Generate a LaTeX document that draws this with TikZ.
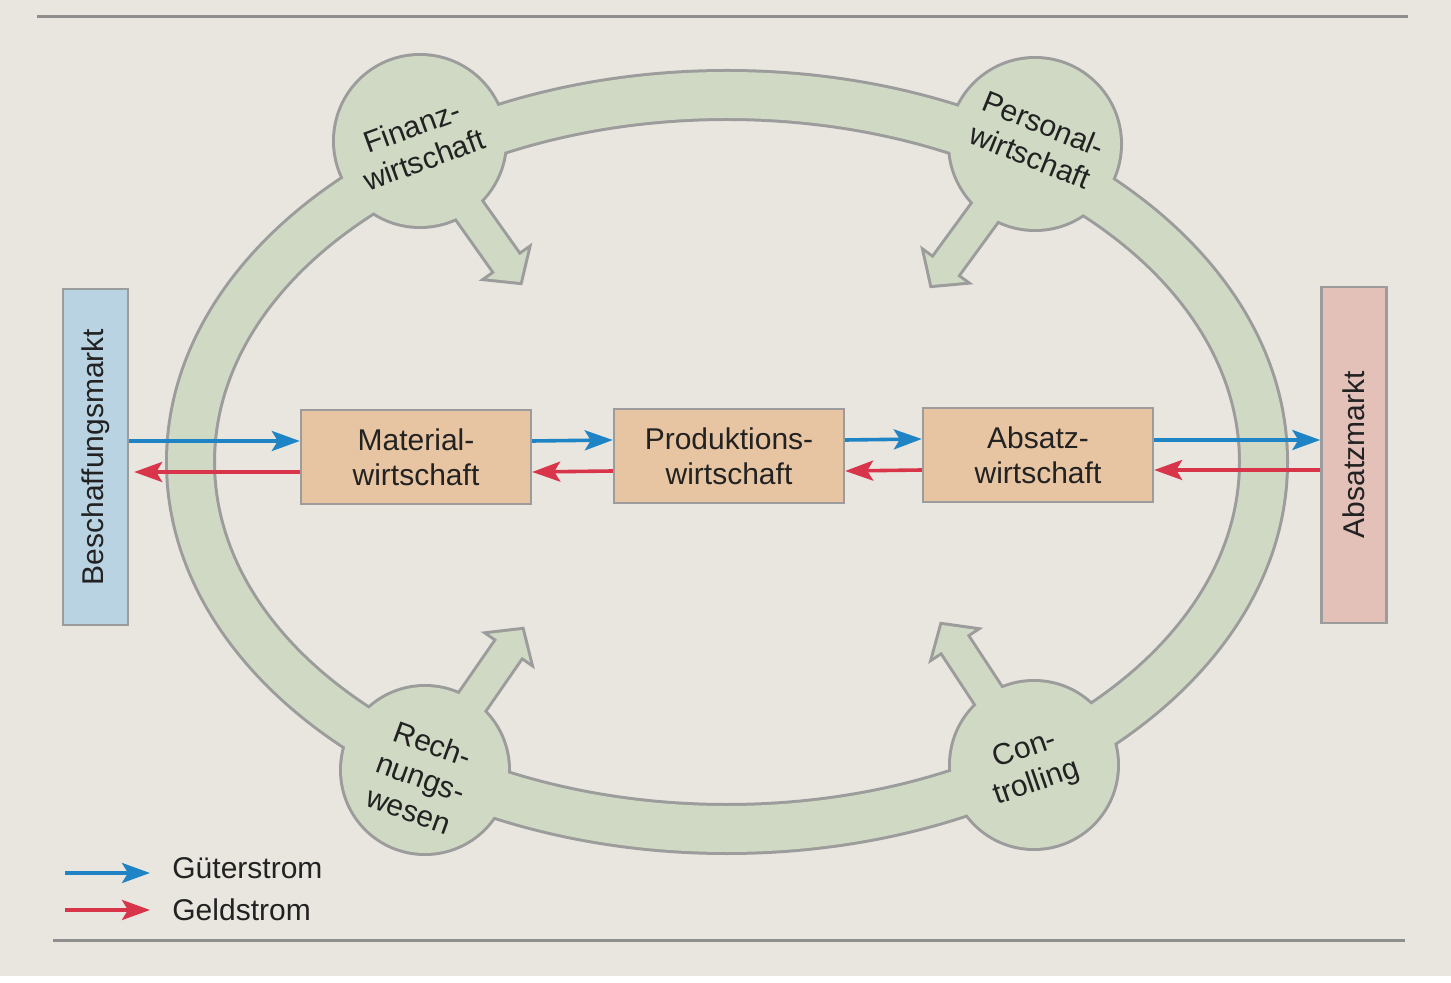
\documentclass[tikz,border=0pt]{standalone}
\usepackage{fontspec}
\setmainfont{Liberation Sans}
\usetikzlibrary{calc,arrows.meta}
\definecolor{paper}{HTML}{E9E6DF}
\definecolor{ringgreen}{HTML}{CFD9C3}
\definecolor{ringline}{HTML}{9C9C9C}
\definecolor{peach}{HTML}{E8C5A2}
\definecolor{bluebox}{HTML}{B9D3E3}
\definecolor{pinkbox}{HTML}{E3C0B8}
\definecolor{gueter}{HTML}{1F84C6}
\definecolor{geld}{HTML}{D8354A}
\definecolor{txt}{HTML}{222222}
\definecolor{hrule}{HTML}{8E8E8E}
\begin{document}
\begin{tikzpicture}[x=0.5pt,y=-0.5pt,
  font=\fontsize{15}{17.5}\selectfont, text=txt,
  box/.style={draw=ringline, line width=1.2pt, fill=peach, minimum width=115pt,
    minimum height=47pt, align=center, inner sep=0pt},
  market/.style={draw=ringline, line width=1.2pt, minimum width=32.5pt,
    minimum height=168pt, inner sep=0pt},
  gflow/.style={draw=gueter, line width=1.8pt, -{Stealth[length=14pt,width=10pt,inset=3pt]}},
  mflow/.style={draw=geld, line width=1.8pt, -{Stealth[length=14pt,width=10pt,inset=3pt]}},
  ringlabel/.style={align=center, inner sep=0pt}]
\useasboundingbox (0,0) rectangle (1451,983);
\fill[paper] (0,0) rectangle (1451,983);
\fill[white] (0,976) rectangle (1451,983);
\draw[hrule, line width=1.5pt] (37,17) -- (1408,17);
\draw[hrule, line width=1.5pt] (53,940) -- (1405,940);

% ring geometry
\coordinate (E) at (727,462);
\coordinate (c1) at (420,141);  \coordinate (t1) at (520,282);
\coordinate (c2) at (1035,144); \coordinate (t2) at (932,285);
\coordinate (c3) at (425,770);  \coordinate (t3) at (522,630);
\coordinate (c4) at (1034,765); \coordinate (t4) at (942,625);
\foreach \i in {1,...,4} {\coordinate (h\i) at ($(t\i)!11pt!(c\i)$);}

% outline layer
\begin{scope}[draw=ringline, line width=3pt]
  \draw (E) ellipse [x radius=279.5pt, y radius=195pt];
  \draw (E) ellipse [x radius=257pt, y radius=172pt];
  \foreach \i/\r in {1/42.5,2/42.5,3/41.5,4/41.5} {\draw (c\i) circle [radius=\r pt];}
  \foreach \i in {1,...,4} {
    \draw ($(c\i)!7.5pt!90:(t\i)$) -- ($(h\i)!7.5pt!90:(t\i)$) -- ($(h\i)!12.5pt!90:(t\i)$)
      -- (t\i) -- ($(h\i)!12.5pt!-90:(t\i)$) -- ($(h\i)!7.5pt!-90:(t\i)$)
      -- ($(c\i)!7.5pt!-90:(t\i)$) -- cycle;
  }
\end{scope}
% fill layer
\fill[ringgreen, even odd rule] (E) ellipse [x radius=279.5pt, y radius=195pt]
  (E) ellipse [x radius=257pt, y radius=172pt];
\foreach \i/\r in {1/42.5,2/42.5,3/41.5,4/41.5} {\fill[ringgreen] (c\i) circle [radius=\r pt];}
\foreach \i in {1,...,4} {
  \fill[ringgreen] ($(c\i)!7.5pt!90:(t\i)$) -- ($(h\i)!7.5pt!90:(t\i)$) -- ($(h\i)!12.5pt!90:(t\i)$)
    -- (t\i) -- ($(h\i)!12.5pt!-90:(t\i)$) -- ($(h\i)!7.5pt!-90:(t\i)$)
    -- ($(c\i)!7.5pt!-90:(t\i)$) -- cycle;
}

% ring labels
\node[ringlabel, rotate=20]  (fin)  at (418,143)  {Finanz-\\wirtschaft};
\node[ringlabel, rotate=-22] (pers) at (1037,140) {Personal-\\wirtschaft};
\node[ringlabel, rotate=-20] (rech) at (421,777)  {Rech-\\nungs-\\wesen};
\node[ringlabel, rotate=19]  (con)  at (1031,767) {Con-\\trolling};

% boxes
\node[market, fill=bluebox] (bm) at (95.5,457) {\rotatebox{90}{Beschaffungsmarkt}};
\node[market, fill=pinkbox] (am) at (1354,455) {\rotatebox{90}{Absatzmarkt}};
\node[box] (mat)  at (416,457)  {Material-\\wirtschaft};
\node[box] (prod) at (729,456)  {Produktions-\\wirtschaft};
\node[box] (abs)  at (1038,455) {Absatz-\\wirtschaft};

% flows
\draw[gflow] ([yshift=8pt]bm.east) -- ([yshift=8pt]mat.west);
\draw[mflow, shorten >=2.5pt] ([yshift=-7.5pt]mat.west) -- ([yshift=-7.5pt]bm.east);
\draw[gflow] ([yshift=8pt]mat.east) -- ([yshift=8pt]prod.west);
\draw[mflow] ([yshift=-7.5pt]prod.west) -- ([yshift=-7.5pt]mat.east);
\draw[gflow] ([yshift=8pt]prod.east) -- ([yshift=8pt]abs.west);
\draw[mflow] ([yshift=-7.5pt]abs.west) -- ([yshift=-7.5pt]prod.east);
\draw[gflow] ([yshift=7.5pt]abs.east) -- ([yshift=7.5pt]am.west);
\draw[mflow] ([yshift=-7.5pt]am.west) -- ([yshift=-7.5pt]abs.east);

% legend
\coordinate (lg1a) at (65,873);  \coordinate (lg1b) at (150,873);
\coordinate (lg2a) at (65,910);  \coordinate (lg2b) at (150,910);
\draw[gflow] (lg1a) -- (lg1b);
\draw[mflow] (lg2a) -- (lg2b);
\node[anchor=base west, inner sep=0pt] (lgt1) at (172,878) {Güterstrom};
\node[anchor=base west, inner sep=0pt] (lgt2) at (172,920) {Geldstrom};
\end{tikzpicture}
\end{document}
